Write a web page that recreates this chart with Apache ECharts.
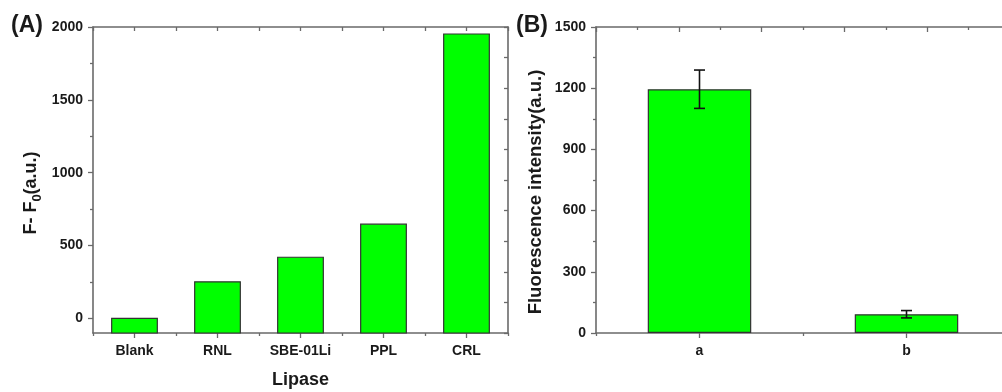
<!DOCTYPE html>
<html>
<head>
<meta charset="utf-8">
<script src="https://cdn.jsdelivr.net/npm/echarts@6/dist/echarts.min.js"></script>
<style>html,body{margin:0;padding:0;background:#fff}#c{width:1002px;height:392px}</style>
</head>
<body>
<div id="c"></div>
<script>
// ---- Panel A data ----
const lipaseCategories = ['Blank', 'RNL', 'SBE-01Li', 'PPL', 'CRL'];
const lipaseValues = [0, 251, 420, 647, 1952];
const aTickValues = [0, 500, 1000, 1500, 2000];
const aMinorTickValues = [250, 750, 1250, 1750];
// ---- Panel B data ----
const sampleCategories = ['a', 'b'];
const sampleValues = [1195, 92];
const sampleErrors = [94, 18];

const A_MIN = -100, A_MAX = 2000;
const FONT = 'Liberation Sans, Arial, sans-serif';
const AXIS_COLOR = '#6a6a6a';
const TEXT_COLOR = '#1a1a1a';
const GREEN = '#00ff00';
const EDGE = '#333333';

const chart = echarts.init(document.getElementById('c'), null, {renderer: 'canvas'});

const lineStyle = {color: AXIS_COLOR, width: 1.6};
const tickStyle = {color: AXIS_COLOR, width: 1.3};
const plainNum = v => String(v);
const labelStyle = {color: TEXT_COLOR, fontFamily: FONT, fontWeight: 'bold', fontSize: 14};

function boundaryAxis(gridIndex, max, position) {
  return {
    type: 'value', gridIndex, position, min: 0, max, interval: 1,
    axisLine: {show: false, onZero: false},
    axisTick: {show: true, inside: false, length: 3, lineStyle: tickStyle},
    axisLabel: {show: false}, splitLine: {show: false}
  };
}

const option = {
  animation: false,
  backgroundColor: '#ffffff',
  grid: [
    {left: 93, top: 27, right: 494, bottom: 59, containLabel: false, outerBoundsMode: 'none'},
    {left: 596, top: 27, right: -8, bottom: 59, containLabel: false, outerBoundsMode: 'none'}
  ],
  xAxis: [
    {
      type: 'category', gridIndex: 0, position: 'bottom', data: lipaseCategories,
      boundaryGap: true,
      axisLine: {show: true, onZero: false, lineStyle},
      axisTick: {show: true, alignWithLabel: true, inside: false, length: 5, lineStyle: tickStyle},
      axisLabel: Object.assign({margin: 11}, labelStyle),
      name: 'Lipase', nameLocation: 'middle', nameGap: 38,
      nameTextStyle: {color: TEXT_COLOR, fontFamily: FONT, fontWeight: 'bold', fontSize: 18}
    },
    boundaryAxis(0, 5, 'bottom'),
    {
      type: 'value', gridIndex: 0, position: 'top', min: 0, max: 10, interval: 1,
      axisLine: {show: true, onZero: false, lineStyle},
      axisTick: {show: true, inside: true, length: 4, lineStyle: tickStyle},
      axisLabel: {show: false}, splitLine: {show: false}
    },
    {
      type: 'category', gridIndex: 1, position: 'bottom', data: sampleCategories,
      boundaryGap: true,
      axisLine: {show: true, onZero: false, lineStyle},
      axisTick: {show: true, alignWithLabel: true, inside: false, length: 5, lineStyle: tickStyle},
      axisLabel: Object.assign({margin: 11}, labelStyle)
    },
    boundaryAxis(1, 2, 'bottom'),
    {
      type: 'value', gridIndex: 1, position: 'top', min: 0, max: 5, interval: 1,
      axisLine: {show: true, onZero: false, lineStyle},
      axisTick: {show: true, inside: true, length: 5, lineStyle: tickStyle},
      minorTick: {show: true, splitNumber: 2, length: 3, lineStyle: tickStyle},
      axisLabel: {show: false}, splitLine: {show: false}, minorSplitLine: {show: false}
    }
  ],
  yAxis: [
    {
      type: 'value', gridIndex: 0, position: 'left', min: A_MIN, max: A_MAX,
      axisLine: {show: true, onZero: false, lineStyle},
      axisTick: {show: true, inside: false, length: 5, lineStyle: tickStyle, customValues: aTickValues},
      axisLabel: Object.assign({margin: 10, customValues: aTickValues, formatter: plainNum}, labelStyle),
      splitLine: {show: false}
    },
    {
      type: 'value', gridIndex: 0, position: 'left', min: A_MIN, max: A_MAX,
      axisLine: {show: false, onZero: false},
      axisTick: {show: true, inside: false, length: 3, lineStyle: tickStyle, customValues: aMinorTickValues},
      axisLabel: {show: false, customValues: aMinorTickValues},
      splitLine: {show: false}
    },
    {
      type: 'value', gridIndex: 0, position: 'right', min: 0, max: 1500, interval: 150,
      axisLine: {show: true, onZero: false, lineStyle},
      axisTick: {show: true, inside: true, length: 4, lineStyle: tickStyle},
      axisLabel: {show: false}, splitLine: {show: false}
    },
    {
      type: 'value', gridIndex: 1, position: 'left', min: 0, max: 1500, interval: 300,
      axisLine: {show: true, onZero: false, lineStyle},
      axisTick: {show: true, inside: false, length: 5, lineStyle: tickStyle},
      minorTick: {show: true, splitNumber: 2, length: 3, lineStyle: tickStyle},
      axisLabel: Object.assign({margin: 10, formatter: plainNum}, labelStyle),
      splitLine: {show: false}, minorSplitLine: {show: false}
    }
  ],
  series: [
    {
      type: 'custom', xAxisIndex: 0, yAxisIndex: 0,
      data: lipaseValues.map((v, i) => [i, v]),
      renderItem: function (params, api) {
        const top = api.coord([api.value(0), api.value(1)]);
        const base = api.coord([api.value(0), A_MIN]);
        const w = api.size([1, 0])[0] * 0.55;
        return {
          type: 'rect',
          shape: {x: top[0] - w / 2, y: top[1], width: w, height: base[1] - top[1]},
          style: {fill: GREEN, stroke: EDGE, lineWidth: 1.2}
        };
      }
    },
    {
      type: 'bar', xAxisIndex: 3, yAxisIndex: 3,
      data: sampleValues, barWidth: '50%',
      itemStyle: {color: GREEN, borderColor: EDGE, borderWidth: 1.2}
    },
    {
      type: 'custom', xAxisIndex: 3, yAxisIndex: 3, z: 5,
      data: sampleValues.map((v, i) => [i, v - sampleErrors[i], v + sampleErrors[i]]),
      renderItem: function (params, api) {
        const lo = api.coord([api.value(0), api.value(1)]);
        const hi = api.coord([api.value(0), api.value(2)]);
        const cap = 5.5;
        const st = {stroke: '#111', lineWidth: 1.6};
        return {
          type: 'group',
          children: [
            {type: 'line', shape: {x1: lo[0], y1: lo[1], x2: hi[0], y2: hi[1]}, style: st},
            {type: 'line', shape: {x1: lo[0] - cap, y1: lo[1], x2: lo[0] + cap, y2: lo[1]}, style: st},
            {type: 'line', shape: {x1: hi[0] - cap, y1: hi[1], x2: hi[0] + cap, y2: hi[1]}, style: st}
          ]
        };
      }
    }
  ],
  graphic: [
    {type: 'text', left: 11, top: 14,
      style: {text: '(A)', fill: TEXT_COLOR, font: 'bold 23px ' + FONT}},
    {type: 'text', left: 516, top: 14,
      style: {text: '(B)', fill: TEXT_COLOR, font: 'bold 23px ' + FONT}},
    {type: 'text', x: 31, y: 193, rotation: Math.PI / 2,
      style: {
        text: '{m|F- F}{s|0}{m|(a.u.)}', align: 'center', verticalAlign: 'middle',
        textAlign: 'center', textVerticalAlign: 'middle',
        rich: {
          m: {fill: TEXT_COLOR, fontFamily: FONT, fontWeight: 'bold', fontSize: 18, lineHeight: 26, verticalAlign: 'middle'},
          s: {fill: TEXT_COLOR, fontFamily: FONT, fontWeight: 'bold', fontSize: 13, lineHeight: 14, verticalAlign: 'bottom'}
        }
      }},
    {type: 'text', x: 536, y: 192, rotation: Math.PI / 2,
      style: {
        text: 'Fluorescence intensity(a.u.)', align: 'center', verticalAlign: 'middle',
        textAlign: 'center', textVerticalAlign: 'middle',
        fill: TEXT_COLOR, font: 'bold 18.5px ' + FONT
      }}
  ]
};
chart.setOption(option);
</script>
</body>
</html>
